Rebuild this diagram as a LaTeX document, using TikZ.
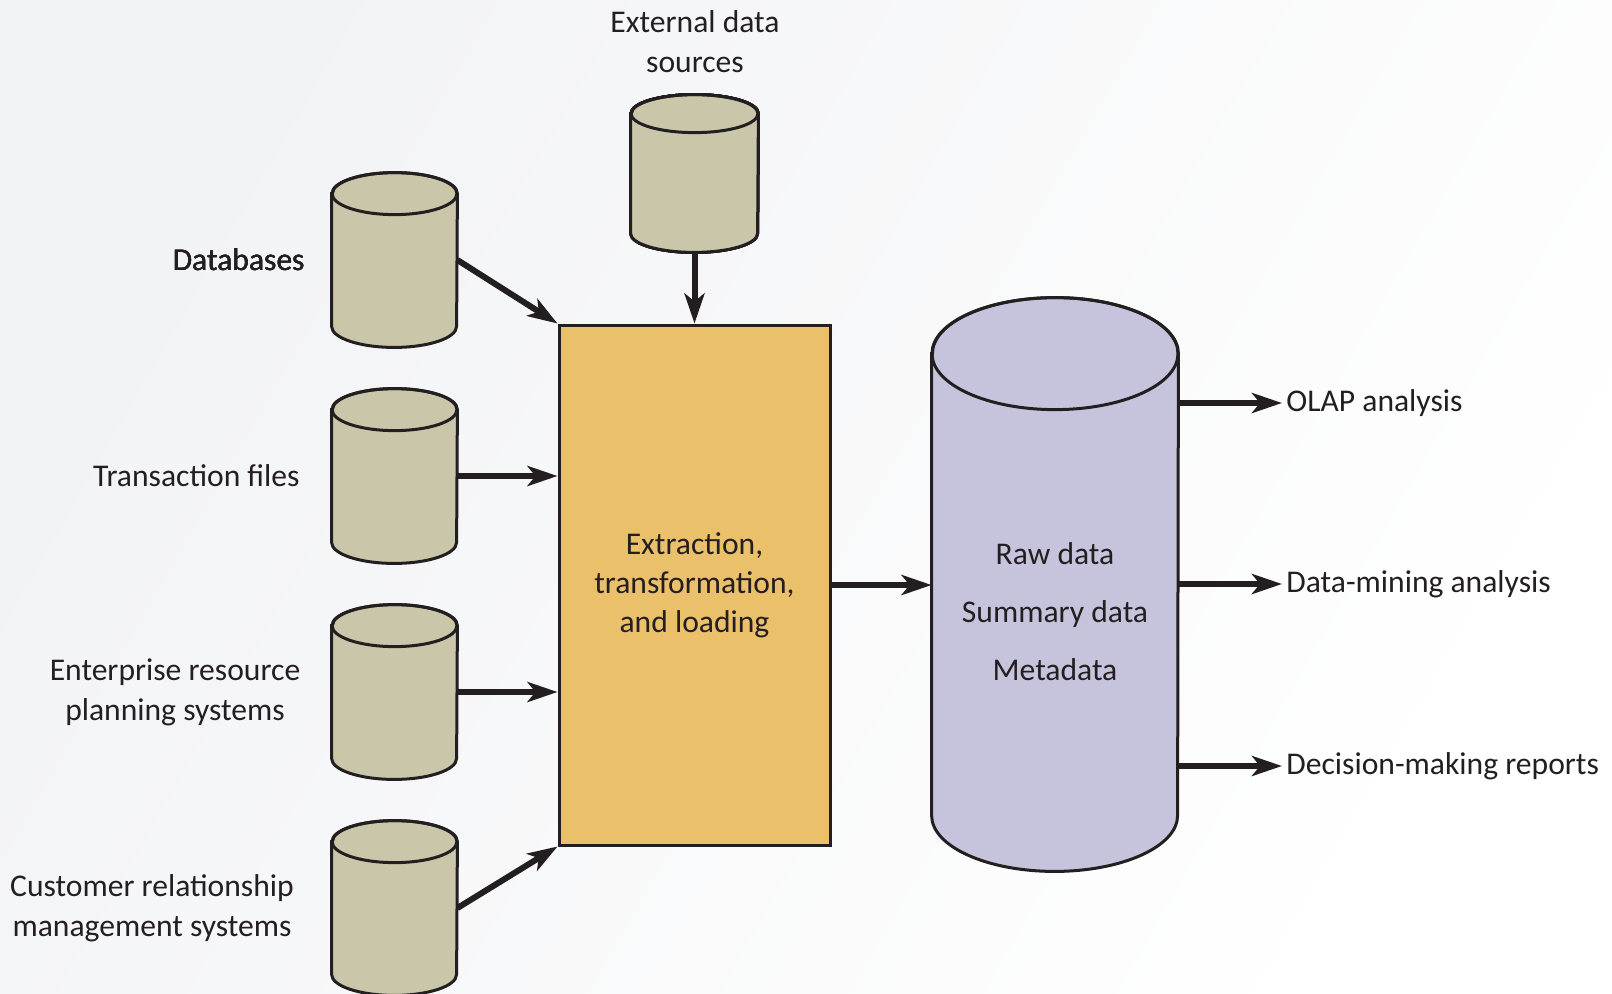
\documentclass[tikz,border=0pt]{standalone}
\usepackage{fontspec}
\setmainfont{Carlito}
\usetikzlibrary{arrows.meta,positioning}
\definecolor{inkline}{HTML}{231F20}
\definecolor{srcfill}{HTML}{C9C6A9}
\definecolor{etlfill}{HTML}{EBC06B}
\definecolor{dwfill}{HTML}{C6C4DC}
\definecolor{paper}{HTML}{F2F3F5}
\tikzset{
  storebox/.style={rectangle, inner sep=0pt, minimum width=62.5pt, minimum height=87pt},
  storeline/.style={draw=inkline, line width=1.5pt},
  etlbox/.style={rectangle, draw=inkline, line width=1.5pt, fill=etlfill,
    minimum width=135.5pt, minimum height=260pt, align=center,
    font=\fontsize{15.8}{19.5}\selectfont, text=inkline},
  lbl/.style={font=\fontsize{15.8}{20}\selectfont, text=inkline, align=center, inner sep=2pt},
  flow/.style={draw=inkline, line width=3pt, -{Stealth[length=15pt,width=10pt,inset=4pt]}},
}
% cylinder round a named box: name, x radius, y radius, fill
\newcommand\drawstore[4]{%
  \path[storeline, fill=#4] ([yshift=-#3]#1.north west) -- ([yshift=#3]#1.south west)
    arc[start angle=180, end angle=360, x radius=#2, y radius=#3]
    -- ([yshift=-#3]#1.north east)
    arc[start angle=0, end angle=180, x radius=#2, y radius=#3] -- cycle;
  \draw[storeline] ([yshift=-#3]#1.north) ellipse[x radius=#2, y radius=#3];
}
\begin{document}
\begin{tikzpicture}[x=0.5pt,y=-0.5pt]
\shade[left color=paper, right color=white, shading angle=60] (0,0) rectangle (1612,993);
\useasboundingbox (0,0) rectangle (1612,993);
% sources
\node[storebox] (db) at (394.5,260) {};
\node[storebox] (tf) at (394.5,476) {};
\node[storebox] (erp) at (394.5,692) {};
\node[storebox] (crm) at (394.5,908) {};
\node[storebox, minimum width=63.5pt, minimum height=78.5pt] (ext) at (694.5,173.5) {};
\foreach \src in {db,tf,erp,crm}
  \drawstore{\src}{31.25pt}{10.5pt}{srcfill}
\drawstore{ext}{31.75pt}{9.5pt}{srcfill}
\node[lbl, anchor=east] (dblbl) at (309,260) {Databases};
\node[lbl, anchor=east] (tflbl) at (304,476) {Transaction files};
\node[lbl] (erplbl) at (175,692) {Enterprise resource\\planning systems};
\node[lbl] (crmlbl) at (152,908) {Customer relationship\\management systems};
\node[lbl] (extlbl) at (695,42) {External data\\sources};
% etl and warehouse
\node[etlbox] (etl) at (694.5,585) {Extraction,\\transformation,\\and loading};
\node[storebox, minimum width=123pt, minimum height=286.5pt] (dw) at (1055,584.5) {};
\drawstore{dw}{61.5pt}{28pt}{dwfill}
\node[lbl] (dwtext) at (1055,612) {Raw data\\[9pt]Summary data\\[9pt]Metadata};
% outputs
\node[lbl, anchor=west] (olap) at (1282,403) {OLAP analysis};
\node[lbl, anchor=west] (dmine) at (1282,584) {Data-mining analysis};
\node[lbl, anchor=west] (reports) at (1282,766) {Decision-making reports};
% flows
\draw[flow] (db.east) -- (etl.north west);
\draw[flow] (tf.east) -- (tf.east -| etl.west);
\draw[flow] (erp.east) -- (erp.east -| etl.west);
\draw[flow] (crm.east) -- (etl.south west);
\draw[flow] (ext.south) -- (etl.north);
\draw[flow] (etl.east) -- (etl.east -| dw.west);
\foreach \out in {olap,dmine,reports}
  \draw[flow] (\out.west -| dw.east) -- (\out.west);
\end{tikzpicture}
\end{document}
